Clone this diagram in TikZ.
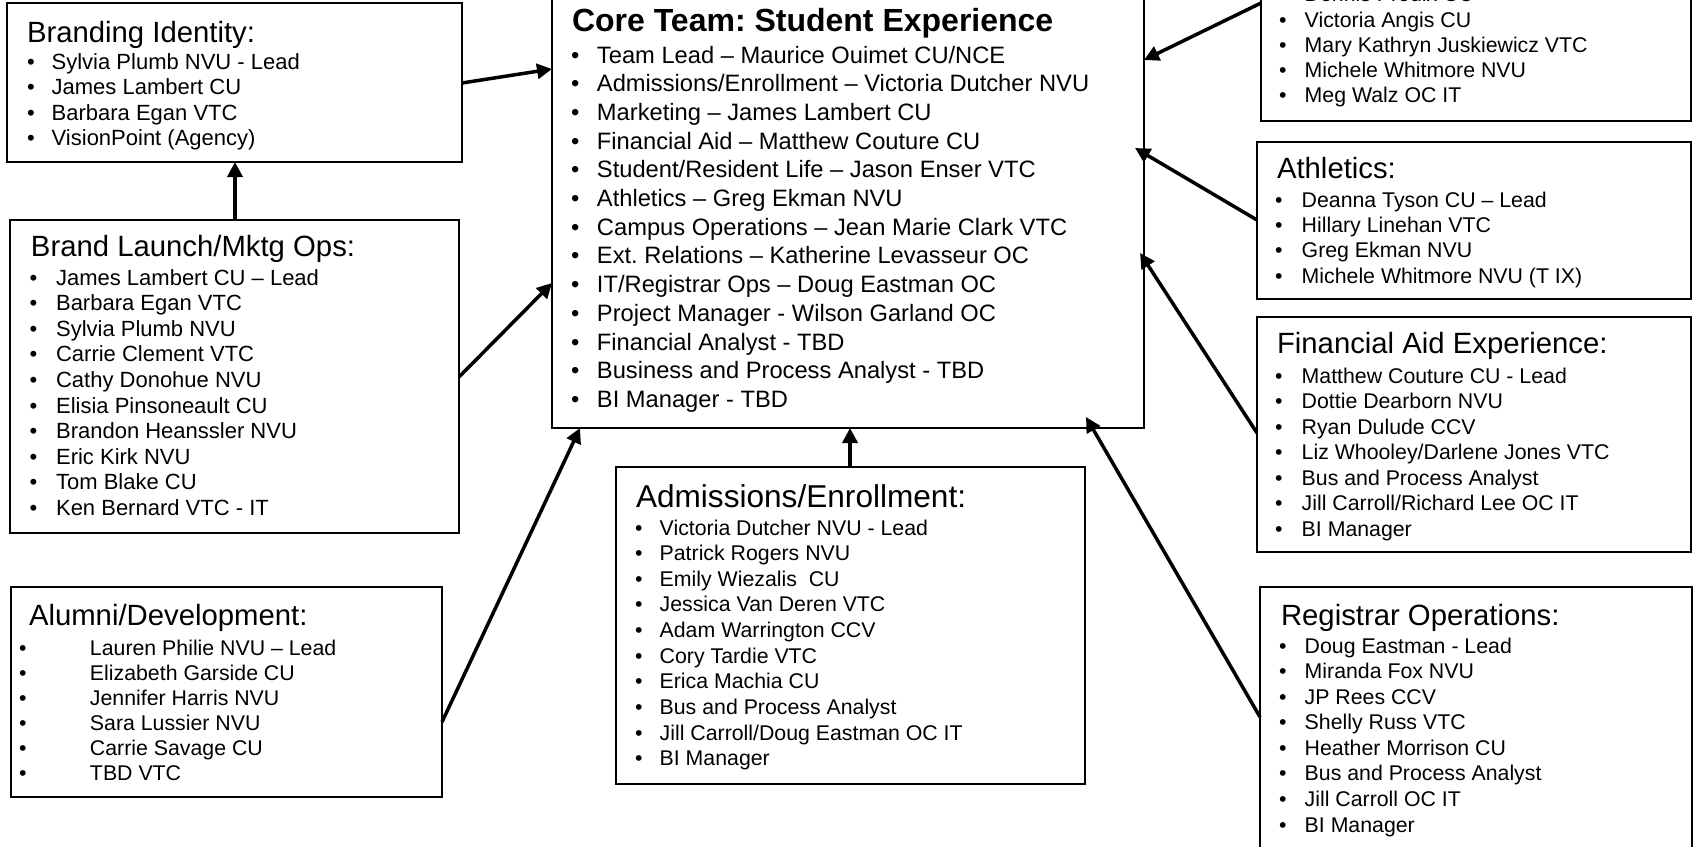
\documentclass[tikz,border=0pt]{standalone}
\usepackage{fontspec}
\setmainfont{Liberation Sans}
\usetikzlibrary{arrows.meta,fit,calc}
\frenchspacing
\newlength\itind
\newcommand\itm[1]{\makebox[\itind][l]{\textbullet}#1\par}
\newcommand\mylist[4]{\parbox[t]{330pt}{\fontsize{#1}{#2}\selectfont\setlength\itind{#3}\lineskiplimit=-100pt\relax #4}}
\newcommand\ttl[2]{\fontsize{#1}{#1}\selectfont #2}
\begin{document}
\begin{tikzpicture}[x=0.5pt,y=-0.5pt,
  box/.style={draw,line width=0.9pt,inner sep=0pt,outer sep=0pt},
  txt/.style={anchor=base west,inner sep=0pt,outer sep=0pt},
  arr/.style={line width=1.75pt,-{Triangle[length=7.5pt,width=7.5pt]}}]
\useasboundingbox (0,0) rectangle (1696,846);
\fill[white] (0,0) rectangle (1696,846);

% boxes
\node[box,fit={(7,3) (462,162)}] (brandid) {};
\node[box,fit={(10,220) (459,533)}] (launch) {};
\node[box,fit={(11,587) (442,797)}] (alumni) {};
\node[box,fit={(552,-4) (1144,428)}] (core) {};
\node[box,fit={(616,467) (1085,784)}] (adm) {};
\node[box,fit={(1261,-4) (1691,121)}] (topright) {};
\node[box,fit={(1257,142) (1691,299)}] (ath) {};
\node[box,fit={(1257,317) (1691,552)}] (finaid) {};
\node[box,fit={(1260,587) (1692,852)}] (reg) {};

% texts
\node[txt] (brandidT) at (27,42) {\ttl{14.65pt}{Branding Identity:}};
\node[txt] (brandidL) at (27,69) {\mylist{11pt}{12.75pt}{12.35pt}{%
\itm{Sylvia Plumb NVU - Lead}\itm{James Lambert CU}\itm{Barbara Egan VTC}\itm{VisionPoint (Agency)}}};

\node[txt] (launchT) at (31,256.5) {\ttl{14.65pt}{Brand Launch/Mktg Ops:}};
\node[txt] (launchL) at (29.5,285) {\mylist{11pt}{12.8pt}{13.3pt}{%
\itm{James Lambert CU – Lead}\itm{Barbara Egan VTC}\itm{Sylvia Plumb NVU}\itm{Carrie Clement VTC}%
\itm{Cathy Donohue NVU}\itm{Elisia Pinsoneault CU}\itm{Brandon Heanssler NVU}\itm{Eric Kirk NVU}%
\itm{Tom Blake CU}\itm{Ken Bernard VTC - IT}}};

\node[txt] (alumniT) at (29,625) {\ttl{14.65pt}{Alumni/Development:}};
\node[txt] (alumniL) at (19,655) {\mylist{10.65pt}{12.5pt}{35.5pt}{%
\itm{Lauren Philie NVU – Lead}\itm{Elizabeth Garside CU}\itm{Jennifer Harris NVU}%
\itm{Sara Lussier NVU}\itm{Carrie Savage CU}\itm{TBD VTC}}};

\node[txt] (coreT) at (572,32) {\fontsize{16pt}{16pt}\selectfont\bfseries Core Team: Student Experience};
\node[txt] (coreL) at (571,63) {\mylist{11.85pt}{14.35pt}{13pt}{%
\itm{Team Lead – Maurice Ouimet CU/NCE}\itm{Admissions/Enrollment – Victoria Dutcher NVU}%
\itm{Marketing – James Lambert CU}\itm{Financial Aid – Matthew Couture CU}%
\itm{Student/Resident Life – Jason Enser VTC}\itm{Athletics – Greg Ekman NVU}%
\itm{Campus Operations – Jean Marie Clark VTC}\itm{Ext. Relations – Katherine Levasseur OC}%
\itm{IT/Registrar Ops – Doug Eastman OC}\itm{Project Manager - Wilson Garland OC}%
\itm{Financial Analyst - TBD}\itm{Business and Process Analyst - TBD}\itm{BI Manager - TBD}}};

\node[txt] (admT) at (636,507) {\ttl{15.8pt}{Admissions/Enrollment:}};
\node[txt] (admL) at (635,535) {\mylist{10.65pt}{12.83pt}{12.35pt}{%
\itm{Victoria Dutcher NVU - Lead}\itm{Patrick Rogers NVU}\itm{Emily Wiezalis\ \ CU}%
\itm{Jessica Van Deren VTC}\itm{Adam Warrington CCV}\itm{Cory Tardie VTC}\itm{Erica Machia CU}%
\itm{Bus and Process Analyst}\itm{Jill Carroll/Doug Eastman OC IT}\itm{BI Manager}}};

\node[txt] (toprightL) at (1279,1.7) {\mylist{10.65pt}{12.65pt}{12.85pt}{%
\itm{Dennis Proulx CU}\itm{Victoria Angis CU}\itm{Mary Kathryn Juskiewicz VTC}%
\itm{Michele Whitmore NVU}\itm{Meg Walz OC IT}}};

\node[txt] (athT) at (1277,178) {\ttl{14.65pt}{Athletics:}};
\node[txt] (athL) at (1275,207) {\mylist{10.65pt}{12.67pt}{13.35pt}{%
\itm{Deanna Tyson CU – Lead}\itm{Hillary Linehan VTC}\itm{Greg Ekman NVU}\itm{Michele Whitmore NVU (T IX)}}};

\node[txt] (finaidT) at (1277,353) {\ttl{14.65pt}{Financial Aid Experience:}};
\node[txt] (finaidL) at (1275,383) {\mylist{10.65pt}{12.75pt}{13.35pt}{%
\itm{Matthew Couture CU - Lead}\itm{Dottie Dearborn NVU}\itm{Ryan Dulude CCV}%
\itm{Liz Whooley/Darlene Jones VTC}\itm{Bus and Process Analyst}\itm{Jill Carroll/Richard Lee OC IT}\itm{BI Manager}}};

\node[txt] (regT) at (1281,625) {\ttl{14.65pt}{Registrar Operations:}};
\node[txt] (regL) at (1279,653) {\mylist{10.65pt}{12.79pt}{12.85pt}{%
\itm{Doug Eastman - Lead}\itm{Miranda Fox NVU}\itm{JP Rees CCV}\itm{Shelly Russ VTC}%
\itm{Heather Morrison CU}\itm{Bus and Process Analyst}\itm{Jill Carroll OC IT}\itm{BI Manager}}};

% connectors
\draw[arr] (brandid.east |- 0,83) -- (core.west |- 0,69);
\draw[arr] (launch.north -| 235,0) -- (brandid.south -| 235,0);
\draw[arr] (launch.east |- 0,377) -- (core.west |- 0,283);
\draw[arr] (alumni.east |- 0,722) -- (core.south -| 580,0);
\draw[arr] (adm.north -| 850,0) -- (core.south -| 850,0);
\draw[arr] (reg.west |- 0,717) -- ($(core.south -| 1086,0)+(0,-11)$);
\draw[arr] (finaid.west |- 0,433) -- ($(core.east |- 0,253)+(-4,0)$);
\draw[arr] (ath.west |- 0,220) -- ($(core.east |- 0,148)+(-9,0)$);
\draw[arr] (topright.west |- 0,3) -- (core.east |- 0,60);
\end{tikzpicture}
\end{document}
